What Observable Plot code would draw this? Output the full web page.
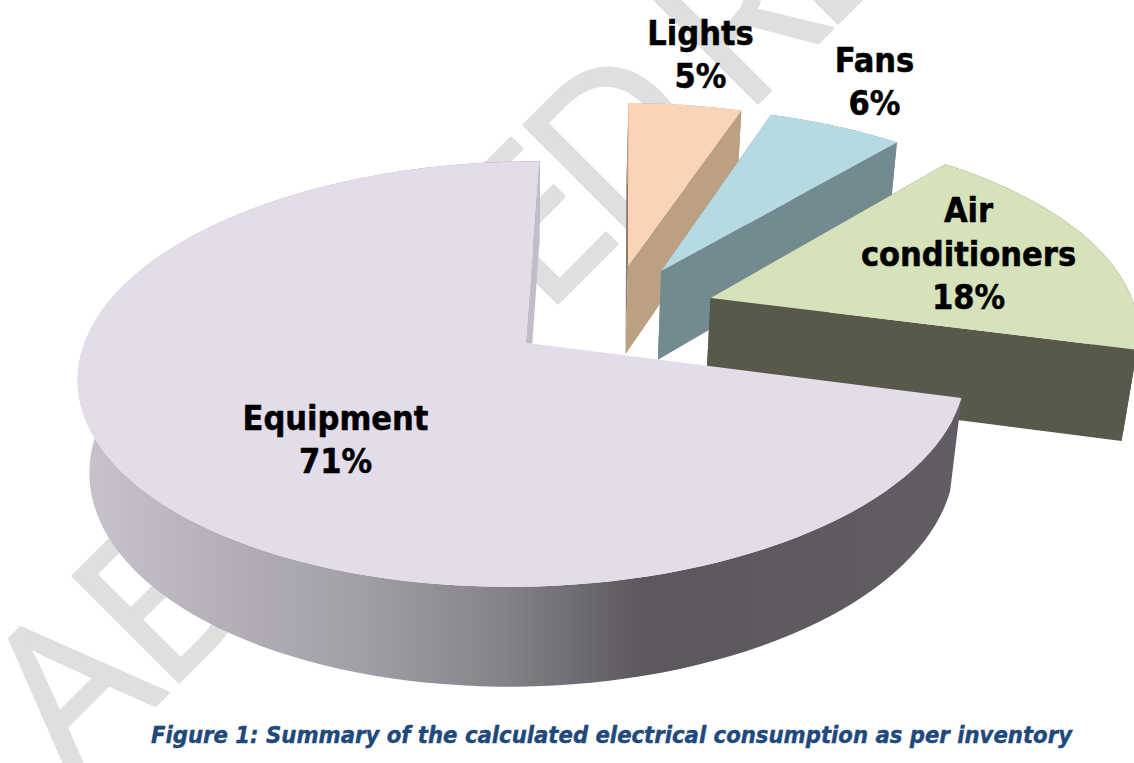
<!DOCTYPE html>
<html><head><meta charset="utf-8">
<style>html,body{margin:0;padding:0;background:#fff;overflow:hidden}</style>
<script src="https://cdn.jsdelivr.net/npm/d3@7"></script>
<script src="https://cdn.jsdelivr.net/npm/@observablehq/plot@0.6"></script>
</head><body>
<script>
// Data
const categories = ["Lights", "Fans", "Air conditioners", "Equipment"];
const shares = [5, 6, 18, 71];
const labelLines = [["Lights"], ["Fans"], ["Air", "conditioners"], ["Equipment"]];
const caption = "Figure 1: Summary of the calculated electrical consumption as per inventory";

// Style
const topColors  = ["#f9d4b6", "#b6dae3", "#d6e2ba", "#e2dde9"];
const sideColors = ["#bca084", "#738a90", "#58594a", "url(#wall)"];
const cutColors  = ["#8f7a66", "#738a90", "#58594a", "#c2bdc9"];

// 3D pie view: a unit disc seen in perspective
const view = {cx: 525, cy: 342, sx: 439, sy: 208, sz: 94, shear: -12, p: 0.148, q: 0.026, r: 0.005};
const hub = [0.196, -0.148], explode = 0.2455, startAngle = -89.5;
const project = (X, Y, Z) => {
  const w = 1 - view.p * Y + view.q * Z + view.r * X;
  return [view.cx + (view.sx * X + view.shear * Y) / w, view.cy + (view.sy * Y + view.sz * Z) / w];
};

// slices built from the shares
const total = d3.sum(shares);
let acc = startAngle;
const slices = categories.map((name, i) => {
  const a0 = acc, a1 = acc + shares[i] / total * 360;
  acc = a1;
  const mid = (a0 + a1) / 2 * Math.PI / 180;
  return {name, i, a0, a1,
    ox: hub[0] + explode * Math.cos(mid),
    oy: hub[1] + explode * Math.sin(mid)};
});
const rim = (s, a, Z) => {
  const t = a * Math.PI / 180;
  return project(s.ox + Math.cos(t), s.oy + Math.sin(t), Z);
};
const arc = (s, Z, rev) => {
  const a = d3.range(0, 121).map(k => rim(s, s.a0 + (s.a1 - s.a0) * k / 120, Z));
  return rev ? a.reverse() : a;
};
const apex = (s, Z) => project(s.ox, s.oy, Z);
const shape = pts => pts.map(([x, y]) => ({x, y}));
const poly = (pts, fill) => Plot.line(shape(pts), {x: "x", y: "y", fill, stroke: "none", curve: "linear-closed"});

const sliceMarks = slices.flatMap(s => {
  const startCut = [apex(s, 0), rim(s, s.a0, 0), rim(s, s.a0, 1), apex(s, 1)];
  const endCut = [apex(s, 0), rim(s, s.a1, 0), rim(s, s.a1, 1), apex(s, 1)];
  const wall = [...arc(s, 0, false), ...arc(s, 1, true)];
  return s.i === 3
    ? [poly(wall, sideColors[s.i]), poly(endCut, cutColors[s.i]),
       poly([apex(s, 0), ...arc(s, 0, false)], topColors[s.i])]
    : [poly(startCut, cutColors[s.i]), poly(wall, sideColors[s.i]), poly(endCut, sideColors[s.i]),
       poly([apex(s, 0), ...arc(s, 0, false)], topColors[s.i])];
});

// Label layout
const labelAt = [[700, 52], [874, 79], [968, 251], [335, 437]];
const labels = slices.map((s, i) => ({
  x: labelAt[i][0], y: labelAt[i][1],
  text: [...labelLines[i], shares[i] + "%"].join("\n")
}));

// Background watermark letters (only the visible ones)
const watermarkLetters = ["A", "B", "E", "D", "R", "E"];
const watermarkX = [74, 164, 543, 615, 743, 823];
const watermarkY = [786, 696, 317, 245, 117, 37];

const defs = () => {
  const ns = "http://www.w3.org/2000/svg";
  const d = document.createElementNS(ns, "defs");
  const g = document.createElementNS(ns, "linearGradient");
  g.setAttribute("id", "wall");
  g.setAttribute("gradientUnits", "userSpaceOnUse");
  g.setAttribute("x1", 80); g.setAttribute("x2", 960);
  g.setAttribute("y1", 0); g.setAttribute("y2", 0);
  [[0, "#c8c3cd"], [0.14, "#b7b2bb"], [0.31, "#a3a0a8"], [0.48, "#85828a"], [0.64, "#5b575d"], [1, "#625d64"]]
    .forEach(([o, c]) => {
      const st = document.createElementNS(ns, "stop");
      st.setAttribute("offset", o); st.setAttribute("stop-color", c);
      g.appendChild(st);
    });
  d.appendChild(g);
  return d;
};

const chart = Plot.plot({
  width: 1134, height: 763, margin: 0,
  x: {domain: [0, 1134], range: [0, 1134], axis: null},
  y: {domain: [0, 763], range: [0, 763], axis: null},
  style: {background: "#fff"},
  marks: [
    defs,
    Plot.text(watermarkLetters, {x: watermarkX, y: watermarkY, text: d => d, fill: "#dfdfdf", stroke: "#dfdfdf", strokeWidth: 3,
      fontFamily: "Open Sans", fontSize: 210, rotate: -45, textAnchor: "start", lineAnchor: "bottom"}),
    ...sliceMarks,
    Plot.text(labels, {x: "x", y: "y", text: "text", fill: "#000", stroke: "#000", strokeWidth: 0.5,
      fontFamily: "DejaVu Sans Condensed", fontWeight: "bold", fontSize: 34, lineHeight: 1.29}),
    Plot.text([caption], {frameAnchor: "bottom", dx: 44, dy: -21, fill: "#1f497d", stroke: "#1f497d", strokeWidth: 0.4,
      fontFamily: "DejaVu Sans Condensed", fontWeight: "bold", fontStyle: "italic", fontSize: 23.6})
  ]
});
document.body.appendChild(chart);
</script>
</body></html>
